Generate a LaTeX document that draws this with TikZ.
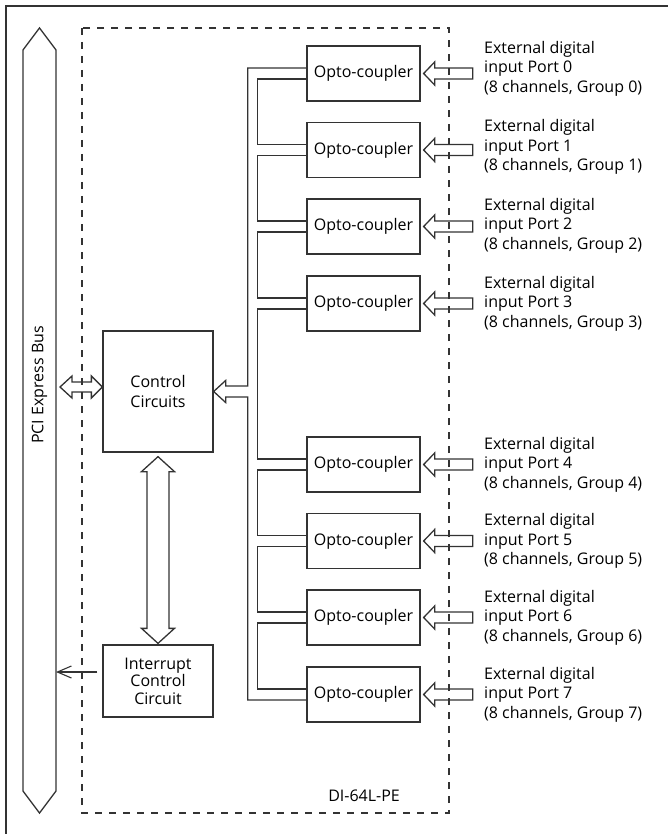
\documentclass[tikz,border=0pt]{standalone}
\usepackage{fontspec}
\setmainfont{Open Sans}
\usetikzlibrary{calc,arrows.meta}
\definecolor{lc}{HTML}{333333}
\newcommand\lbl{\fontsize{16}{19.5}\selectfont}
\begin{document}
\begin{tikzpicture}[x=1pt,y=-1pt,
  ln/.style={draw=lc,line width=1.3pt,line join=miter},
  blk/.style={draw=lc,line width=1.3pt,rectangle,inner sep=0pt,align=center,font=\lbl,text=black},
  opto/.style={blk,minimum width=113pt,minimum height=55pt},
  ext/.style={anchor=west,align=left,inner sep=0pt,font=\lbl,text=black},
  dashbox/.style={draw=lc,line width=1.3pt,dash pattern=on 7pt off 7pt}]
\useasboundingbox (0,0) rectangle (668,834);
% outer frame (top and left edges visible)
\draw[ln] (6,834) -- (6,6) -- (668,6);
% PCI Express bus
\draw[ln] (39.5,28) -- (56,50) -- (56,791) -- (39.5,813) -- (23,791) -- (23,50) -- cycle;
\coordinate (busR) at (56,400);
\node[rotate=90,font=\lbl,text=black] (buslbl) at (39.5,385) {PCI Express Bus};
% board outline
\draw[dashbox] (82,28) rectangle (449,813);
\node[anchor=east,font=\lbl,text=black,inner sep=0pt] (board) at (400,796) {DI-64L-PE};
% blocks
\node[blk,minimum width=110pt,minimum height=121pt] (ctrl) at (158,391.5) {Control\\Circuits};
\node[blk,minimum width=110pt,minimum height=72pt,font=\fontsize{16}{17.5}\selectfont] (intc) at (158,681) {Interrupt\\Control\\Circuit};
% opto-couplers and external inputs
\foreach \i/\y/\d in {0/73.5/-5,1/150/-3,2/226.5/-1,3/303.5/0,4/464.5/0,5/541/0,6/617.5/0,7/694.5/0}{
  \node[opto] (o\i) at (363.5,\y) {Opto-coupler};
  \node[ext] (t\i) at (484,\y+\d) {External digital\\input Port \i\\(8 channels, Group \i)};
  \draw[ln] ([xshift=3pt]o\i.east) -- ++(11,-11.5) -- ++(0,6) -- ++(38,0)
     -- ++(0,11) -- ++(-38,0) -- ++(0,6) -- cycle;
}
% inner wiring chain
\foreach \a/\b in {0/1,1/2,2/3,3/4,4/5,5/6,6/7}{
  \draw[ln] ([yshift=-5.5pt]o\a.west) -- ++(-49,0) |- ([yshift=5.5pt]o\b.west);
}
% outer bus to control circuits (hollow arrow)
\draw[ln] ([yshift=5.5pt]o0.west) -| ($(ctrl.east)+(34,-5.5)$) -- ($(ctrl.east)+(12,-5.5)$)
   -- ($(ctrl.east)+(12,-11)$) -- (ctrl.east) -- ($(ctrl.east)+(12,11)$) -- ($(ctrl.east)+(12,5.5)$)
   -- ($(ctrl.east)+(34,5.5)$) |- ([yshift=-5.5pt]o7.west);
% bus <-> control circuits double arrow
\coordinate (dl) at ($(busR |- ctrl.west)+(4,-4.5)$);
\coordinate (dr) at ($(ctrl.west)+(0,-4.5)$);
\draw[ln] (dl) -- ++(12,-11) -- ++(0,6) -- ($(dr)+(-11,-5)$) -- ++(0,-6) -- (dr)
   -- ++(-11,11) -- ++(0,-6) -- ($(dl)+(12,5)$) -- ++(0,6) -- cycle;
% control circuits <-> interrupt double arrow
\coordinate (vt) at ($(ctrl.south)+(0,4)$);
\coordinate (vb) at ($(intc.north)+(0,-1)$);
\draw[ln] (vt) -- ++(16.5,15) -- ++(-5.5,0) -- ($(vb)+(11,-15)$) -- ++(5.5,0) -- (vb)
   -- ++(-16.5,-15) -- ++(5.5,0) -- ($(vt)+(-11,15)$) -- ++(-5.5,0) -- cycle;
% interrupt to bus
\draw[draw=lc,line width=1.1pt,-{Straight Barb[length=14pt,width=12pt]}]
   ($(intc.west)+(-5,-9)$) -- (busR |- {$(intc.west)+(0,-9)$});
\end{tikzpicture}
\end{document}
